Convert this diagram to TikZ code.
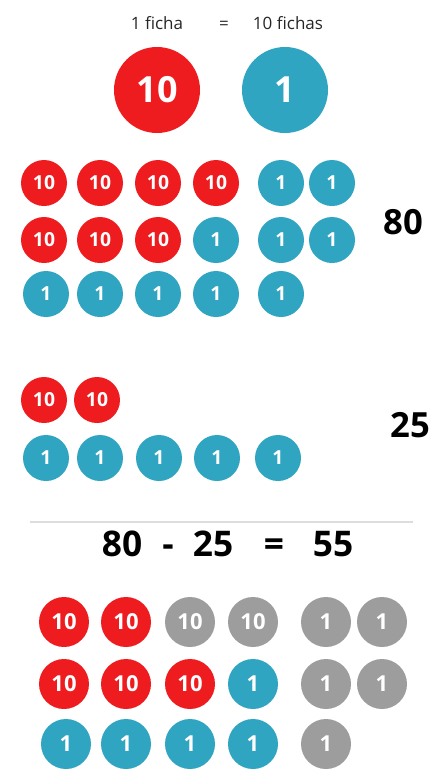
\documentclass[tikz,border=0pt]{standalone}
\usepackage{fontspec}
\setmainfont{Open Sans}
\usepackage{tikz}
\usepackage{xcolor}
\usetikzlibrary{positioning}
\definecolor{chipred}{HTML}{EE1C1F}
\definecolor{chipblue}{HTML}{30A5C2}
\definecolor{chipgrey}{HTML}{9D9D9D}
\definecolor{ruleline}{HTML}{DDDDDD}
\tikzset{
  chip/.style={circle, fill=#1, text=white, inner sep=0pt},
  bigchip/.style={chip=#1, minimum size=64.5pt, font=\fontsize{27}{27}\selectfont\bfseries},
  smallchip/.style={chip=#1, minimum size=34.5pt, font=\fontsize{14.5}{14.5}\selectfont\bfseries},
  midchip/.style={chip=#1, minimum size=37.5pt, font=\fontsize{16.5}{16.5}\selectfont\bfseries},
  caption/.style={font=\fontsize{12.75}{12.75}\selectfont, text=black!85, inner sep=0pt, anchor=base},
  total/.style={font=\fontsize{26}{26}\selectfont\bfseries, inner sep=0pt},
  sum/.style={font=\fontsize{26.5}{26.5}\selectfont\bfseries, inner sep=0pt, anchor=base}
}
\begin{document}
\begin{tikzpicture}[x=0.75pt, y=-0.75pt]
  \useasboundingbox (0,0) rectangle (431,775);
  % equivalence
  \node[caption] (one) at (157,29) {1 ficha};
  \node[caption] (eq) at (224,29) {=};
  \node[caption] (ten) at (288,29) {10 fichas};
  \node[bigchip=chipred] (big10) at (157,90) {10};
  \node[bigchip=chipblue] (big1) at (285,90) {1};
  % minuend: 80
  \node[smallchip=chipred] (a1) at (44,183) {10};
  \node[smallchip=chipred] (a2) at (100,183) {10};
  \node[smallchip=chipred] (a3) at (158,183) {10};
  \node[smallchip=chipred] (a4) at (216,183) {10};
  \node[smallchip=chipblue] (a5) at (281,183) {1};
  \node[smallchip=chipblue] (a6) at (332,183) {1};
  \node[smallchip=chipred] (a7) at (44,240) {10};
  \node[smallchip=chipred] (a8) at (100,240) {10};
  \node[smallchip=chipred] (a9) at (158,240) {10};
  \node[smallchip=chipblue] (a10) at (216,240) {1};
  \node[smallchip=chipblue] (a11) at (281,240) {1};
  \node[smallchip=chipblue] (a12) at (332,240) {1};
  \node[smallchip=chipblue] (a13) at (46,294) {1};
  \node[smallchip=chipblue] (a14) at (100,294) {1};
  \node[smallchip=chipblue] (a15) at (158,294) {1};
  \node[smallchip=chipblue] (a16) at (216,294) {1};
  \node[smallchip=chipblue] (a17) at (281,294) {1};
  \node[total] (tot80) at (403,222) {80};
  % subtrahend: 25
  \node[smallchip=chipred] (b1) at (44,400) {10};
  \node[smallchip=chipred] (b2) at (97,400) {10};
  \node[smallchip=chipblue] (b3) at (46,458) {1};
  \node[smallchip=chipblue] (b4) at (100,458) {1};
  \node[smallchip=chipblue] (b5) at (159,458) {1};
  \node[smallchip=chipblue] (b6) at (217,458) {1};
  \node[smallchip=chipblue] (b7) at (278,458) {1};
  \node[total] (tot25) at (410,425) {25};
  % result
  \draw[ruleline, line width=0.8pt] (30,522) -- (413,522);
  \node[sum] (s1) at (122,556) {80};
  \node[sum] (s2) at (168,556) {-};
  \node[sum] (s3) at (213,556) {25};
  \node[sum] (s4) at (274,556) {=};
  \node[sum] (s5) at (333,556) {55};
  \node[midchip=chipred] (c1) at (64,622) {10};
  \node[midchip=chipred] (c2) at (126,622) {10};
  \node[midchip=chipgrey] (c3) at (190,622) {10};
  \node[midchip=chipgrey] (c4) at (253,622) {10};
  \node[midchip=chipgrey] (c5) at (326,622) {1};
  \node[midchip=chipgrey] (c6) at (382,622) {1};
  \node[midchip=chipred] (c7) at (64,684) {10};
  \node[midchip=chipred] (c8) at (126,684) {10};
  \node[midchip=chipred] (c9) at (190,684) {10};
  \node[midchip=chipblue] (c10) at (253,684) {1};
  \node[midchip=chipgrey] (c11) at (326,684) {1};
  \node[midchip=chipgrey] (c12) at (382,684) {1};
  \node[midchip=chipblue] (c13) at (66,744) {1};
  \node[midchip=chipblue] (c14) at (126,744) {1};
  \node[midchip=chipblue] (c15) at (190,744) {1};
  \node[midchip=chipblue] (c16) at (253,744) {1};
  \node[midchip=chipgrey] (c17) at (326,744) {1};
\end{tikzpicture}
\end{document}
